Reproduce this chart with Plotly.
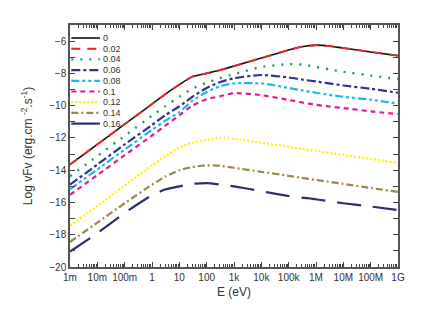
import plotly.graph_objects as go

# photon energy grid (eV)
energy = [1e-3, 1e-2, 1e-1, 1, 3, 10, 30, 100, 300, 1e3, 1e4, 1e5, 3e5, 1e6, 3e6, 1e7, 1e8, 1e9]

# log nuFnu, one list per parameter value
sed_0 = [-13.65, -12.4, -11.15, -9.9, -9.3, -8.7, -8.2, -8.0, -7.8, -7.55, -7.05, -6.55, -6.35, -6.25, -6.3, -6.43, -6.67, -6.9]
sed_002 = [-13.65, -12.4, -11.15, -9.9, -9.3, -8.7, -8.2, -8.0, -7.8, -7.55, -7.05, -6.55, -6.35, -6.25, -6.3, -6.43, -6.67, -6.9]
sed_004 = [-14.37, -13.12, -11.87, -10.62, -10.05, -9.45, -8.95, -8.58, -8.3, -8.05, -7.6, -7.43, -7.45, -7.6, -7.75, -7.9, -8.13, -8.35]
sed_006 = [-14.9, -13.65, -12.4, -11.2, -10.6, -10.05, -9.45, -8.9, -8.55, -8.3, -8.1, -8.25, -8.38, -8.5, -8.62, -8.75, -8.95, -9.2]
sed_008 = [-15.18, -13.95, -12.72, -11.5, -10.95, -10.4, -9.7, -9.15, -8.8, -8.62, -8.62, -8.9, -9.05, -9.2, -9.33, -9.45, -9.63, -9.87]
sed_010 = [-15.53, -14.3, -13.07, -11.85, -11.25, -10.6, -10.0, -9.6, -9.42, -9.22, -9.35, -9.65, -9.8, -9.95, -10.05, -10.15, -10.35, -10.53]
sed_012 = [-17.45, -16.2, -14.95, -13.7, -13.15, -12.6, -12.3, -12.12, -12.0, -12.05, -12.3, -12.55, -12.68, -12.8, -12.92, -13.05, -13.3, -13.55]
sed_014 = [-18.45, -17.25, -16.05, -14.9, -14.4, -14.0, -13.8, -13.7, -13.72, -13.85, -14.1, -14.35, -14.48, -14.6, -14.72, -14.85, -15.1, -15.35]
sed_016 = [-19.05, -17.9, -16.65, -15.55, -15.2, -15.0, -14.85, -14.8, -14.88, -15.0, -15.3, -15.6, -15.7, -15.8, -15.93, -16.05, -16.25, -16.47]

labels = ["0", "0.02", "0.04", "0.06", "0.08", "0.1", "0.12", "0.14", "0.16"]
x_tickvals = [1e-3, 1e-2, 1e-1, 1, 10, 100, 1e3, 1e4, 1e5, 1e6, 1e7, 1e8, 1e9]
x_ticktext = ["1m", "10m", "100m", "1", "10", "100", "1k", "10k", "100k", "1M", "10M", "100M", "1G"]
y_tickvals = [-20, -18, -16, -14, -12, -10, -8, -6]

series = [sed_0, sed_002, sed_004, sed_006, sed_008, sed_010, sed_012, sed_014, sed_016]
styles = [
    ("#111111", "solid", 1.6),
    ("#e8262c", "9px,7px", 2.0),
    ("#14a05a", "2px,7px", 2.4),
    ("#2e3192", "9px,3px,3px,3px", 2.2),
    ("#1ab6ef", "8px,3px,3px,3px,3px,3px", 2.2),
    ("#ec168c", "5px,4px", 2.2),
    ("#fff200", "2px,2px", 2.2),
    ("#9b8843", "7px,3px,2px,3px", 2.2),
    ("#2b2f6e", "24px,12px", 2.2),
]

fig = go.Figure()
for name, ys, (col, dash, w) in zip(labels, series, styles):
    fig.add_trace(go.Scatter(x=energy, y=ys, mode="lines", name=name, showlegend=False,
                             line=dict(color=col, dash=dash, width=w, shape="spline", smoothing=0.6)))

# compact legend drawn by hand (plotly's own rows are too tall here)
row_h = 10.7 / 242
for i, (name, (col, dash, w)) in enumerate(zip(labels, styles)):
    yy = 1 - 13 / 242 - i * row_h
    legend_dash = "solid" if name == "0.16" else dash
    fig.add_shape(type="line", xref="paper", yref="paper", x0=0.004, x1=0.091, y0=yy, y1=yy,
                  line=dict(color=col, dash=legend_dash, width=w))
    fig.add_annotation(x=0.096, y=yy, xref="paper", yref="paper", text=name, showarrow=False,
                       xanchor="left", yanchor="middle", font=dict(size=9, color="#333333"))

minor_x = [m * 10 ** k for k in range(-3, 9) for m in range(2, 10)]

fig.update_layout(
    width=436, height=327,
    margin=dict(l=70, r=38, t=25, b=60),
    paper_bgcolor="white", plot_bgcolor="white",
    font=dict(family="Liberation Sans, Arial", size=10, color="#333333"),
    showlegend=False,
)
fig.update_xaxes(
    type="log", range=[-3, 9],
    tickvals=x_tickvals, ticktext=x_ticktext,
    ticks="inside", ticklen=5, tickcolor="#444",
    minor=dict(tickvals=minor_x, ticks="inside", ticklen=3, tickcolor="#444"),
    showline=True, linecolor="#555", linewidth=1.5, mirror="ticks",
    showgrid=False, zeroline=False,
    title=dict(text="E (eV)", font=dict(size=12), standoff=6),
)
fig.update_yaxes(
    range=[-20, -5],
    tickvals=y_tickvals,
    ticks="inside", ticklen=5, tickcolor="#444",
    minor=dict(dtick=1, ticks="inside", ticklen=5, tickcolor="#444"),
    showline=True, linecolor="#555", linewidth=1.5, mirror="ticks",
    showgrid=False, zeroline=False,
    title=dict(text="Log vFv (erg.cm <sup>-2</sup>.s<sup>-1</sup>)", font=dict(size=12), standoff=14),
)

fig.write_html("out.html", config={"displayModeBar": False},
               post_script="document.body.style.margin='0';")
